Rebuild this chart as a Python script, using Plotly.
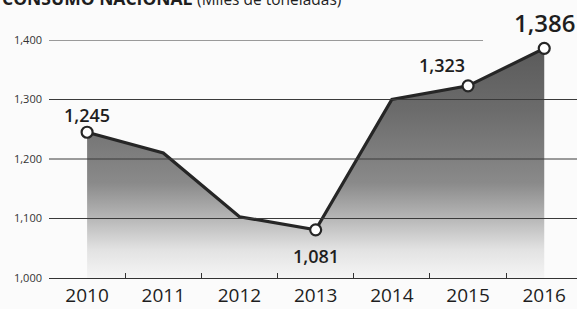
import plotly.graph_objects as go

years = ["2010", "2011", "2012", "2013", "2014", "2015", "2016"]
consumo = [1245, 1210, 1103, 1081, 1300, 1323, 1386]
labeled_years = ["2010", "2013", "2015", "2016"]
y_ticks = [1000, 1100, 1200, 1300, 1400]

title_bold = "CONSUMO NACIONAL"
title_light = "(Miles de toneladas)"

lab_x = [y for y in years if y in labeled_years]
lab_v = [v for y, v in zip(years, consumo) if y in labeled_years]

fig = go.Figure()

fig.add_trace(go.Scatter(
    x=years, y=consumo, mode="none", fill="tozeroy",
    fillgradient=dict(
        type="vertical", start=1000, stop=1400,
        colorscale=[[0, "#f5f5f5"], [0.12, "#e2e2e2"], [0.26, "#b4b4b4"],
                    [0.40, "#8a8a8a"], [0.7, "#6c6c6c"], [1, "#585858"]],
    ),
    hoverinfo="skip", showlegend=False,
))

fig.add_trace(go.Scatter(
    x=years, y=consumo, mode="lines",
    line=dict(color="#262626", width=3.2),
    showlegend=False,
))

fig.add_trace(go.Scatter(
    x=lab_x, y=lab_v, mode="markers",
    marker=dict(size=11, color="white", line=dict(color="#262626", width=2.2)),
    showlegend=False, cliponaxis=False,
))

# gridlines
for v in y_ticks[1:]:
    fig.add_shape(type="line", xref="paper", yref="y",
                  x0=0, x1=(0.822 if v == 1400 else 1), y0=v, y1=v,
                  line=dict(color="#3a3a3a", width=1), layer="above")

# value labels
offsets = {
    "2010": (0, 17, 18),
    "2013": (0, -26, 18),
    "2015": (-26, 21, 18),
    "2016": (0, 26, 24),
}
for x, v in zip(lab_x, lab_v):
    dx, dy, fs = offsets[x]
    fig.add_annotation(x=years.index(x), y=v, text=f"{v:,}", showarrow=False,
                       xshift=dx, yshift=dy,
                       font=dict(family="Open Sans", size=fs, color="#1e1e1e",
                                 weight=600))

fig.add_annotation(
    xref="paper", yref="paper", x=-0.093, y=1, xanchor="left", yanchor="bottom",
    yshift=28, showarrow=False,
    text=f"<b>{title_bold}</b> <span style='font-size:15.5px'>{title_light}</span>",
    font=dict(family="Open Sans", size=17.5, color="#1e1e1e"),
)

fig.update_layout(
    width=577, height=309,
    margin=dict(l=49, r=0, t=40, b=31),
    paper_bgcolor="#fbfbfb", plot_bgcolor="#fbfbfb",
    font=dict(family="Open Sans", color="#222"),
)
fig.update_xaxes(
    type="category", range=[-0.5, 6.43], showgrid=False, zeroline=False,
    showline=True, linecolor="#333", linewidth=1.2,
    ticks="inside", tickson="boundaries", ticklen=5, tickcolor="#333",
    tickfont=dict(family="Open Sans", size=19, color="#1e1e1e"),
)
fig.update_yaxes(
    range=[1000, 1400], tickvals=y_ticks, tickformat=",",
    showgrid=False, zeroline=False, ticks="", ticklabelstandoff=6,
    tickfont=dict(family="Open Sans", size=11, color="#333"),
)

fig.write_html(
    "out.html",
    config={"displayModeBar": False},
    post_script="document.body.style.margin='0';document.body.style.overflow='hidden';",
)
